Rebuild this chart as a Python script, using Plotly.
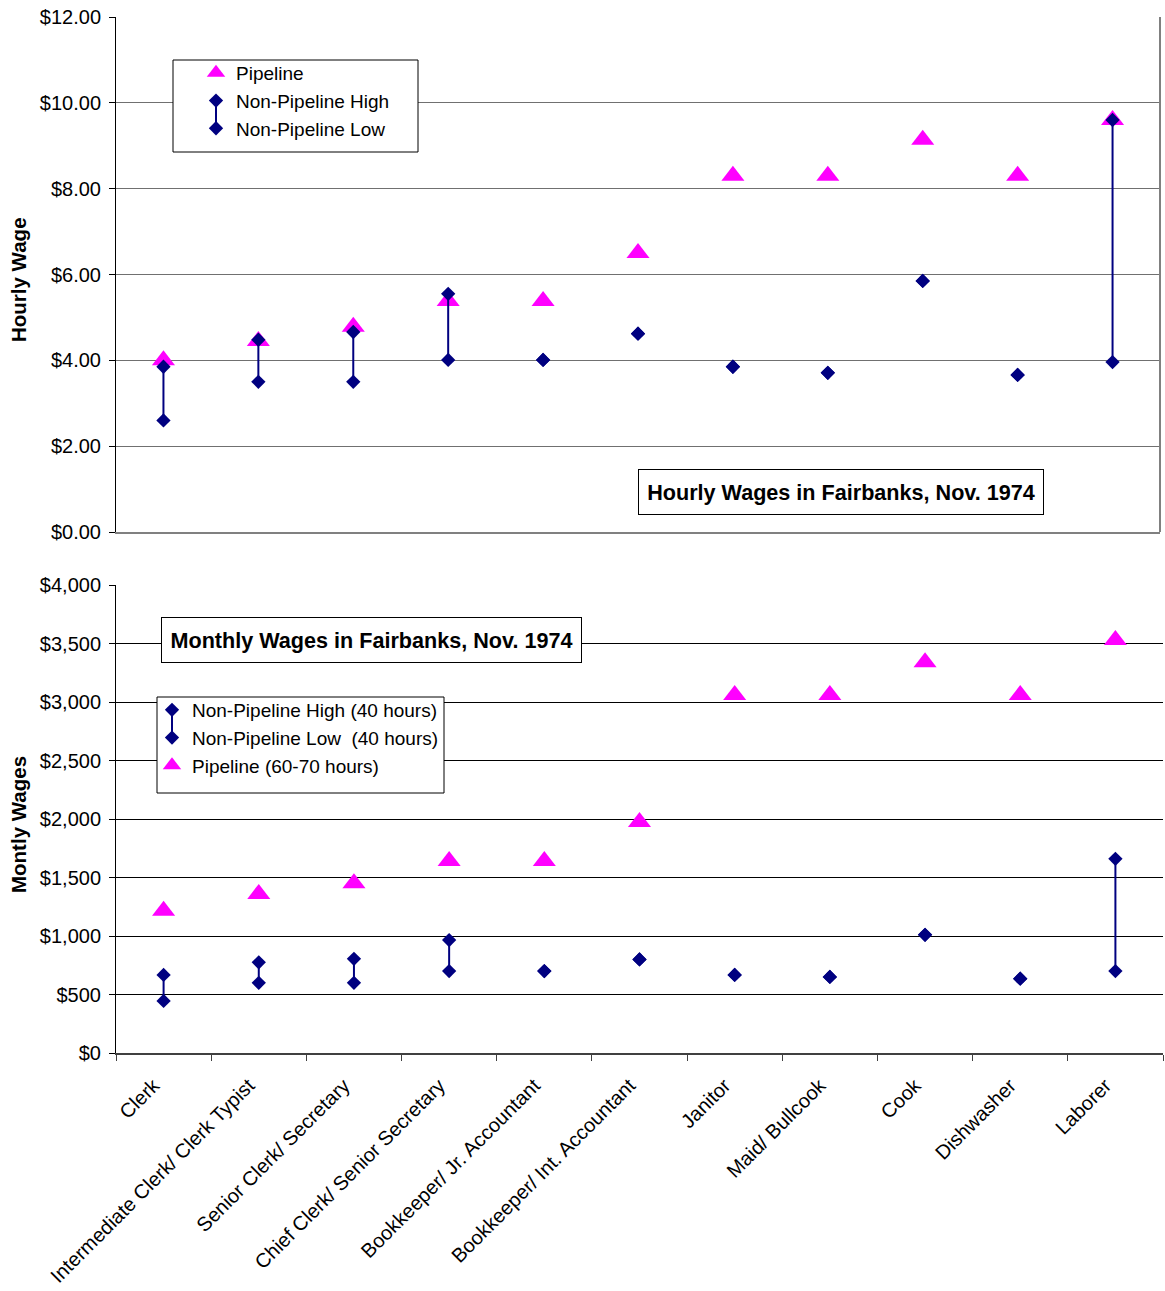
import plotly.graph_objects as go

W, H = 1165, 1291

categories = ["Clerk", "Intermediate Clerk/ Clerk Typist", "Senior Clerk/ Secretary",
              "Chief Clerk/ Senior Secretary", "Bookkeeper/ Jr. Accountant",
              "Bookkeeper/ Int. Accountant", "Janitor", "Maid/ Bullcook", "Cook",
              "Dishwasher", "Laborer"]

hourly_pipeline = [4.00, 4.45, 4.78, 5.38, 5.38, 6.50, 8.30, 8.30, 9.14, 8.30, 9.60]
hourly_high = [3.85, 4.48, 4.66, 5.55, 4.01, 4.62, 3.85, 3.71, 5.85, 3.66, 9.60]
hourly_low = [2.60, 3.50, 3.50, 4.01, 4.01, 4.62, 3.85, 3.71, 5.85, 3.66, 3.96]

monthly_pipeline = [1215, 1360, 1450, 1640, 1640, 1975, 3060, 3060, 3340, 3060, 3530]
monthly_high = [667, 775, 805, 965, 700, 800, 667, 650, 1010, 635, 1660]
monthly_low = [445, 600, 600, 700, 700, 800, 667, 650, 1010, 635, 700]

hourly_ticks = [0, 2, 4, 6, 8, 10, 12]
hourly_ticktext = ["$0.00", "$2.00", "$4.00", "$6.00", "$8.00", "$10.00", "$12.00"]
monthly_ticks = [0, 500, 1000, 1500, 2000, 2500, 3000, 3500, 4000]
monthly_ticktext = ["$0", "$500", "$1,000", "$1,500", "$2,000", "$2,500", "$3,000", "$3,500", "$4,000"]

FONT = "Liberation Sans, Arial, sans-serif"
NAVY = "#000080"
MAG = "#FF00FF"


def connectors(cats, hi, lo):
    xs, ys = [], []
    for c, h, l in zip(cats, hi, lo):
        xs += [c, c, None]
        ys += [h, l, None]
    return xs, ys


fig = go.Figure()

# ---- Top: hourly ----
fig.add_trace(go.Scatter(x=categories, y=hourly_pipeline, mode="markers", name="Pipeline",
                         marker=dict(symbol="triangle-up", size=20, color=MAG),
                         xaxis="x", yaxis="y", legend="legend"))
cx, cy = connectors(categories, hourly_high, hourly_low)
fig.add_trace(go.Scatter(x=cx, y=cy, mode="lines", line=dict(color=NAVY, width=2),
                         showlegend=False, hoverinfo="skip", xaxis="x", yaxis="y"))
fig.add_trace(go.Scatter(x=categories, y=hourly_high, mode="markers", name="Non-Pipeline High",
                         marker=dict(symbol="diamond", size=11, color=NAVY),
                         xaxis="x", yaxis="y", legend="legend"))
fig.add_trace(go.Scatter(x=categories, y=hourly_low, mode="markers", name="Non-Pipeline Low",
                         marker=dict(symbol="diamond", size=11, color=NAVY),
                         xaxis="x", yaxis="y", legend="legend"))

# ---- Bottom: monthly ----
mx, my = connectors(categories, monthly_high, monthly_low)
fig.add_trace(go.Scatter(x=mx, y=my, mode="lines", line=dict(color=NAVY, width=2),
                         showlegend=False, hoverinfo="skip", xaxis="x2", yaxis="y2"))
fig.add_trace(go.Scatter(x=categories, y=monthly_high, mode="markers",
                         name="Non-Pipeline High (40 hours)",
                         marker=dict(symbol="diamond", size=11, color=NAVY),
                         xaxis="x2", yaxis="y2", legend="legend2"))
fig.add_trace(go.Scatter(x=categories, y=monthly_low, mode="markers",
                         name="Non-Pipeline Low\u00a0 (40 hours)",
                         marker=dict(symbol="diamond", size=11, color=NAVY),
                         xaxis="x2", yaxis="y2", legend="legend2"))
fig.add_trace(go.Scatter(x=categories, y=monthly_pipeline, mode="markers",
                         name="Pipeline (60-70 hours)",
                         marker=dict(symbol="triangle-up", size=20, color=MAG),
                         xaxis="x2", yaxis="y2", legend="legend2"))

legend_common = dict(xanchor="left", yanchor="top", bgcolor="rgba(0,0,0,0)",
                     borderwidth=0, font=dict(family=FONT, size=19, color="black"),
                     traceorder="normal", itemsizing="trace")

fig.update_layout(
    width=W, height=H, template="none",
    margin=dict(l=0, r=0, t=0, b=0),
    paper_bgcolor="white", plot_bgcolor="white",
    font=dict(family=FONT, size=19, color="black"),
    hovermode=False,
    legend=dict(x=173 / W, y=1 - 54 / H, indentation=23, **legend_common),
    legend2=dict(x=157 / W, y=1 - 691 / H, indentation=-5, **legend_common),
    xaxis=dict(domain=[116 / W, 1160 / W], anchor="y", type="category",
               categoryarray=categories, range=[-0.5, 10.5], showticklabels=False,
               showline=True, linecolor="#808080", linewidth=2, ticks="",
               showgrid=False, zeroline=False, automargin=False, fixedrange=True),
    yaxis=dict(domain=[1 - 532 / H, 1 - 17 / H], anchor="x", range=[0, 12],
               tickmode="array", tickvals=hourly_ticks, ticktext=hourly_ticktext,
               showline=True, linecolor="black", linewidth=1, ticks="outside",
               ticklen=6, tickcolor="black", showgrid=True, gridcolor="#707070",
               gridwidth=1, zeroline=False, automargin=False, ticklabelstandoff=4,
               tickfont=dict(family=FONT, size=20, color="black")),
    xaxis2=dict(domain=[116 / W, 1163 / W], anchor="y2", type="category",
                categoryarray=categories, range=[-0.5, 10.5], tickangle=-45,
                showline=True, linecolor="#404040", linewidth=2, ticks="outside",
                tickson="boundaries", ticklen=6, tickcolor="#404040",
                showgrid=False, zeroline=False, automargin=False,
                ticklabelshift=-10, ticklabelstandoff=11,
                tickfont=dict(family=FONT, size=20, color="black")),
    yaxis2=dict(domain=[1 - 1053 / H, 1 - 585 / H], anchor="x2", range=[0, 4000],
                tickmode="array", tickvals=monthly_ticks, ticktext=monthly_ticktext,
                showline=True, linecolor="black", linewidth=1, ticks="outside",
                ticklen=6, tickcolor="black", showgrid=True, gridcolor="black",
                gridwidth=1, zeroline=False, automargin=False, ticklabelstandoff=4,
                tickfont=dict(family=FONT, size=20, color="black")),
)

# right border of the top plot
fig.add_shape(type="line", xref="x domain", yref="y domain", x0=1, x1=1, y0=0, y1=1,
              line=dict(color="#808080", width=2))

# legend boxes (drawn as shapes so the high-low connector can sit inside them)
fig.add_shape(type="rect", xref="paper", yref="paper", layer="above",
              x0=173 / W, x1=418 / W, y0=1 - 60 / H, y1=1 - 152 / H,
              fillcolor="white", line=dict(color="black", width=1))
fig.add_shape(type="rect", xref="paper", yref="paper", layer="above",
              x0=157 / W, x1=444 / W, y0=1 - 697 / H, y1=1 - 793 / H,
              fillcolor="white", line=dict(color="black", width=1))

# high-low connector in the legends
fig.add_shape(type="line", xref="paper", yref="paper", layer="above", x0=216 / W, x1=216 / W,
              y0=1 - 102 / H, y1=1 - 130 / H, line=dict(color=NAVY, width=2))
fig.add_shape(type="line", xref="paper", yref="paper", layer="above", x0=172 / W, x1=172 / W,
              y0=1 - 711 / H, y1=1 - 739 / H, line=dict(color=NAVY, width=2))

# chart titles in boxes
fig.add_annotation(text="<b>Hourly Wages in Fairbanks, Nov. 1974</b>", xref="paper", yref="paper",
                   x=841 / W, y=1 - 492 / H, xanchor="center", yanchor="middle",
                   showarrow=False, bordercolor="black", borderwidth=1, bgcolor="white",
                   width=402, height=42, borderpad=1, font=dict(family=FONT, size=21.6, color="black"))
fig.add_annotation(text="<b>Monthly Wages in Fairbanks, Nov. 1974</b>", xref="paper", yref="paper",
                   x=371.5 / W, y=1 - 640 / H, xanchor="center", yanchor="middle",
                   showarrow=False, bordercolor="black", borderwidth=1, bgcolor="white",
                   width=417, height=42, borderpad=1, font=dict(family=FONT, size=21.6, color="black"))

# axis titles
fig.add_annotation(text="<b>Hourly Wage</b>", xref="paper", yref="paper", x=18 / W, y=1 - 280 / H,
                   textangle=-90, showarrow=False, xanchor="center", yanchor="middle",
                   font=dict(family=FONT, size=20.5, color="black"))
fig.add_annotation(text="<b>Montly Wages</b>", xref="paper", yref="paper", x=18 / W, y=1 - 825 / H,
                   textangle=-90, showarrow=False, xanchor="center", yanchor="middle",
                   font=dict(family=FONT, size=20.5, color="black"))

fig.write_html("out.html", config={"displayModeBar": False},
               post_script="document.body.style.margin='0';")
